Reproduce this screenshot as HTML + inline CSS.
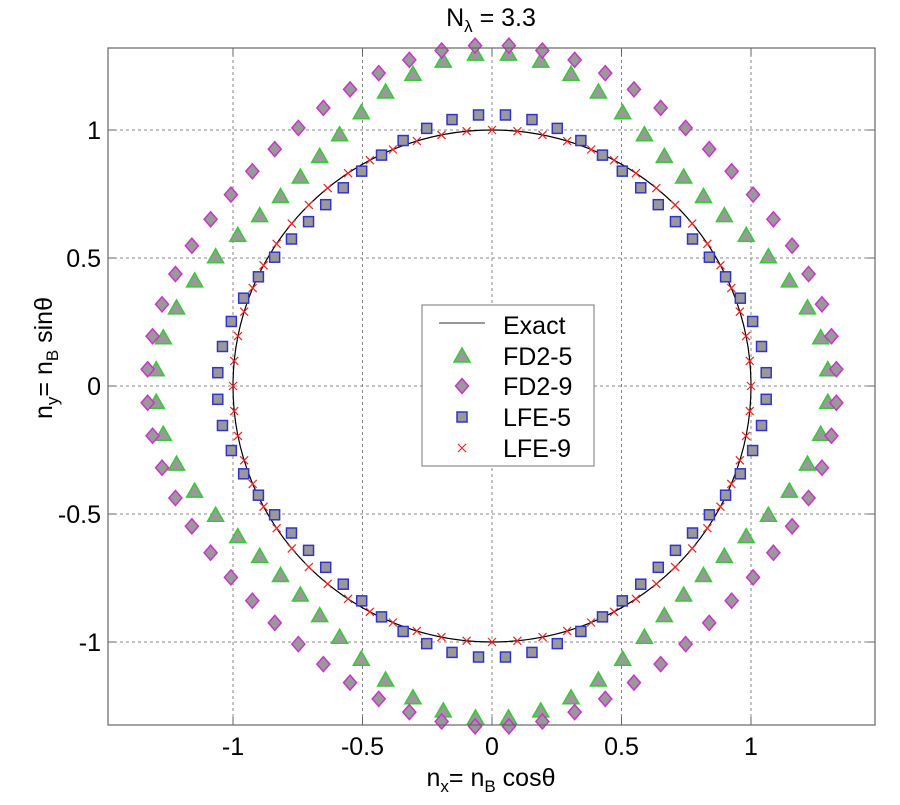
<!DOCTYPE html>
<html><head><meta charset="utf-8"><style>
html,body{margin:0;padding:0;background:#fff;}
svg text{font-family:"Liberation Sans",Arial,sans-serif;fill:#000;}
</style></head><body>
<svg id="s" width="900" height="800" viewBox="0 0 900 800" xmlns="http://www.w3.org/2000/svg">
<rect width="900" height="800" fill="#fff"/>
<g id="grid" stroke="#888" stroke-width="1" stroke-dasharray="3,3" fill="none">
<line x1="233" y1="48" x2="233" y2="725"/>
<line x1="362.5" y1="48" x2="362.5" y2="725"/>
<line x1="492" y1="48" x2="492" y2="725"/>
<line x1="621.5" y1="48" x2="621.5" y2="725"/>
<line x1="751" y1="48" x2="751" y2="725"/>
<line x1="108" y1="130" x2="875" y2="130"/>
<line x1="108" y1="258" x2="875" y2="258"/>
<line x1="108" y1="386" x2="875" y2="386"/>
<line x1="108" y1="514" x2="875" y2="514"/>
<line x1="108" y1="642" x2="875" y2="642"/>
</g>
<g stroke="#666" stroke-width="1">
<line x1="233" y1="725" x2="233" y2="717"/><line x1="362.5" y1="725" x2="362.5" y2="717"/><line x1="492" y1="725" x2="492" y2="717"/><line x1="621.5" y1="725" x2="621.5" y2="717"/><line x1="751" y1="725" x2="751" y2="717"/>
<line x1="233" y1="48" x2="233" y2="56"/><line x1="362.5" y1="48" x2="362.5" y2="56"/><line x1="492" y1="48" x2="492" y2="56"/><line x1="621.5" y1="48" x2="621.5" y2="56"/><line x1="751" y1="48" x2="751" y2="56"/>
<line x1="108" y1="130" x2="116" y2="130"/><line x1="108" y1="258" x2="116" y2="258"/><line x1="108" y1="386" x2="116" y2="386"/><line x1="108" y1="514" x2="116" y2="514"/><line x1="108" y1="642" x2="116" y2="642"/>
<line x1="875" y1="130" x2="867" y2="130"/><line x1="875" y1="258" x2="867" y2="258"/><line x1="875" y1="386" x2="867" y2="386"/><line x1="875" y1="514" x2="867" y2="514"/><line x1="875" y1="642" x2="867" y2="642"/>
</g>
<g id="data"></g>
<rect x="108" y="48" width="767" height="677" fill="none" stroke="#666" stroke-width="1.2"/>
<g font-size="25" text-anchor="middle">
<text x="233" y="755">-1</text><text x="362.5" y="755">-0.5</text><text x="492" y="755">0</text><text x="621.5" y="755">0.5</text><text x="751" y="755">1</text>
</g>
<g font-size="25" text-anchor="end">
<text x="101" y="139">1</text><text x="101" y="267">0.5</text><text x="101" y="395">0</text><text x="101" y="523">-0.5</text><text x="101" y="651">-1</text>
</g>
<text x="491" y="26" font-size="25" text-anchor="middle">N<tspan font-size="17" dy="6">λ</tspan><tspan dy="-6"> = 3.3</tspan></text>
<text x="491" y="786" font-size="25" text-anchor="middle">n<tspan font-size="17" dy="6">x</tspan><tspan dy="-6">= n</tspan><tspan font-size="17" dy="6">B</tspan><tspan dy="-6"> cosθ</tspan></text>
<text transform="translate(52,358) rotate(-90)" font-size="25" text-anchor="middle">n<tspan font-size="17" dy="6">y</tspan><tspan dy="-6">= n</tspan><tspan font-size="17" dy="6">B</tspan><tspan dy="-6"> sinθ</tspan></text>
<g id="legend">
<rect x="422" y="305" width="172" height="161" fill="#fff" stroke="#777" stroke-width="1"/>
<line x1="439" y1="323" x2="485" y2="323" stroke="#777" stroke-width="1.5"/>
<g font-size="25"><text x="503" y="334">Exact</text><text x="503" y="365">FD2-5</text><text x="503" y="395">FD2-9</text><text x="503" y="426">LFE-5</text><text x="503" y="457">LFE-9</text></g>
</g>
</svg>
<script>
var NS="http://www.w3.org/2000/svg",d=document.getElementById("data"),L=document.getElementById("legend");
function el(p,t,a){var e=document.createElementNS(NS,t);for(var k in a)e.setAttribute(k,a[k]);p.appendChild(e);return e;}
var cx=492,cy=386,sx=259,sy=256;
el(d,"ellipse",{cx:cx,cy:cy,rx:sx,ry:sy,fill:"none",stroke:"#000","stroke-width":1.2});
function tri(p,x,y){el(p,"polygon",{points:(x)+","+(y-8)+" "+(x+8)+","+(y+6)+" "+(x-8)+","+(y+6),fill:"#999",stroke:"#3c3","stroke-width":1.5});}
function dia(p,x,y){el(p,"polygon",{points:x+","+(y-7.5)+" "+(x+6.5)+","+y+" "+x+","+(y+7.5)+" "+(x-6.5)+","+y,fill:"#999",stroke:"#c3c","stroke-width":1.5});}
function sq(p,x,y){el(p,"rect",{x:x-5,y:y-5,width:10,height:10,fill:"#999",stroke:"#33c","stroke-width":1.5});}
function cr(p,x,y){el(p,"path",{d:"M"+(x-4)+","+(y-4)+"L"+(x+4)+","+(y+4)+"M"+(x+4)+","+(y-4)+"L"+(x-4)+","+(y+4),stroke:"#e22","stroke-width":1.2,fill:"none"});}
var st=Math.PI*2/64;
for(var k=0;k<64;k++){var t=(k+0.5)*st,c4=Math.cos(4*t);var r=1.20+0.10*c4; tri(d,cx+sx*r*Math.cos(t),cy-sy*r*Math.sin(t));}
for(var k=0;k<64;k++){var t=(k+0.5)*st,c4=Math.cos(4*t);var r=1.29+0.042*c4; dia(d,cx+sx*r*Math.cos(t),cy-sy*r*Math.sin(t));}
for(var k=0;k<64;k++){var t=(k+0.5)*st,c4=Math.cos(4*t);var r=1.008+0.053*c4; sq(d,cx+sx*r*Math.cos(t),cy-sy*r*Math.sin(t));}
for(var k=0;k<64;k++){var t=k*st; cr(d,cx+sx*Math.cos(t),cy-sy*Math.sin(t));}
tri(L,462,356);dia(L,462,386);sq(L,462,417);cr(L,462,448);
</script>
</body></html>
